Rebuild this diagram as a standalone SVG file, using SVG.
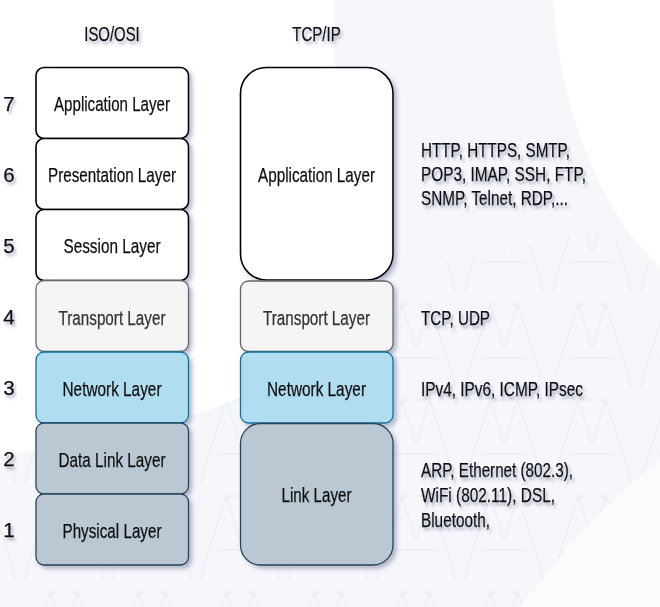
<svg xmlns="http://www.w3.org/2000/svg" width="660" height="607" viewBox="0 0 660 607">
<defs>
<filter id="sh" x="-10%" y="-10%" width="125%" height="125%">
<feDropShadow dx="3" dy="3" stdDeviation="2" flood-color="#4a5580" flood-opacity="0.4"/>
</filter>
<filter id="tsh" x="-10%" y="-30%" width="125%" height="170%">
<feDropShadow dx="2" dy="3" stdDeviation="1.8" flood-color="#4a5580" flood-opacity="0.45"/>
</filter>
<pattern id="tri" width="88" height="96" patternUnits="userSpaceOnUse" x="20" y="10">
<path d="M4,90 L30,6 L58,6 L84,90 M22,60 L66,60 M30,6 L44,50 L58,6" fill="none" stroke="#e9ecf0" stroke-width="1.5"/>
</pattern>
</defs>
<style>
.t{font-family:"Liberation Sans",Arial,sans-serif;font-size:20.5px;fill:#111;text-anchor:middle;stroke:#111;stroke-width:0.25}
.l{font-family:"Liberation Sans",Arial,sans-serif;font-size:20.5px;fill:#111;stroke:#111;stroke-width:0.25}
.n{font-family:"Liberation Sans",Arial,sans-serif;font-size:20.5px;fill:#111;text-anchor:middle;stroke:#111;stroke-width:0.25}
.w{fill:#ffffff;stroke:#000000;stroke-width:1.6}
.g{fill:#f5f5f5;stroke:#666666;stroke-width:1.3}
.b{fill:#b1ddf0;stroke:#10739e;stroke-width:1.3}
.s{fill:#bac8d3;stroke:#23445d;stroke-width:1.3}
</style>
<rect width="660" height="607" fill="#ffffff"/>
<path d="M334,0 L553,0 C560,110 600,210 660,268 L660,607 L0,607 L0,455 C140,440 280,400 334,330 Z" fill="#f6f7fa"/>
<path d="M400,270 L600,230 L660,268 L660,607 L0,607 L0,455 C140,440 280,400 334,330 Z" fill="url(#tri)" opacity="0.75"/>
<path d="M520,607 C570,540 620,490 660,460 L660,607 Z" fill="#fafbfc"/>

<g id="title-iso" filter="url(#tsh)"><text class="t" x="112" y="40.5" textLength="55.5" lengthAdjust="spacingAndGlyphs">ISO/OSI</text></g>
<g id="title-tcp" filter="url(#tsh)"><text class="t" x="316.5" y="40.5" textLength="48.5" lengthAdjust="spacingAndGlyphs">TCP/IP</text></g>

<g id="numbers" filter="url(#tsh)">
<text class="n" x="9" y="111">7</text>
<text class="n" x="9" y="182">6</text>
<text class="n" x="9" y="253">5</text>
<text class="n" x="9" y="324">4</text>
<text class="n" x="9" y="395">3</text>
<text class="n" x="9" y="466">2</text>
<text class="n" x="9" y="537">1</text>
</g>

<g id="iso-application" filter="url(#sh)"><rect class="w" x="36" y="67.5" width="152.5" height="71" rx="8"/><text class="t" x="112" y="111" textLength="116" lengthAdjust="spacingAndGlyphs">Application Layer</text></g>
<g id="iso-presentation" filter="url(#sh)"><rect class="w" x="36" y="138.5" width="152.5" height="71" rx="8"/><text class="t" x="112" y="182" textLength="128" lengthAdjust="spacingAndGlyphs">Presentation Layer</text></g>
<g id="iso-session" filter="url(#sh)"><rect class="w" x="36" y="209.5" width="152.5" height="71" rx="8"/><text class="t" x="112" y="253" textLength="97" lengthAdjust="spacingAndGlyphs">Session Layer</text></g>
<g id="iso-transport" filter="url(#sh)"><rect class="g" x="36" y="280.5" width="152.5" height="71" rx="8"/><text class="t" x="112" y="324.5" textLength="107" lengthAdjust="spacingAndGlyphs" style="fill:#333;stroke:#333">Transport Layer</text></g>
<g id="iso-network" filter="url(#sh)"><rect class="b" x="36" y="352" width="152.5" height="71" rx="8"/><text class="t" x="112" y="395.5" textLength="99" lengthAdjust="spacingAndGlyphs">Network Layer</text></g>
<g id="iso-datalink" filter="url(#sh)"><rect class="s" x="36" y="423" width="152.5" height="71" rx="8"/><text class="t" x="112" y="466.5" textLength="107" lengthAdjust="spacingAndGlyphs">Data Link Layer</text></g>
<g id="iso-physical" filter="url(#sh)"><rect class="s" x="36" y="494" width="152.5" height="71" rx="8"/><text class="t" x="112" y="537.5" textLength="99" lengthAdjust="spacingAndGlyphs">Physical Layer</text></g>

<g id="tcp-application" filter="url(#sh)"><rect class="w" x="240.5" y="67.5" width="152.5" height="212.5" rx="26"/><text class="t" x="316.5" y="182" textLength="117" lengthAdjust="spacingAndGlyphs">Application Layer</text></g>
<g id="tcp-transport" filter="url(#sh)"><rect class="g" x="240.5" y="281" width="152.5" height="70.5" rx="8"/><text class="t" x="316.5" y="324.5" textLength="107" lengthAdjust="spacingAndGlyphs" style="fill:#333;stroke:#333">Transport Layer</text></g>
<g id="tcp-network" filter="url(#sh)"><rect class="b" x="240.5" y="352" width="152.5" height="71" rx="8"/><text class="t" x="316.5" y="395.5" textLength="99" lengthAdjust="spacingAndGlyphs">Network Layer</text></g>
<g id="tcp-link" filter="url(#sh)"><rect class="s" x="240.5" y="423.5" width="152.5" height="141.5" rx="20"/><text class="t" x="316.5" y="502" textLength="70" lengthAdjust="spacingAndGlyphs">Link Layer</text></g>

<g id="proto-app" filter="url(#tsh)">
<text class="l" x="421" y="157" textLength="149" lengthAdjust="spacingAndGlyphs">HTTP, HTTPS, SMTP,</text>
<text class="l" x="421" y="181" textLength="165" lengthAdjust="spacingAndGlyphs">POP3, IMAP, SSH, FTP,</text>
<text class="l" x="421" y="205" textLength="147" lengthAdjust="spacingAndGlyphs">SNMP, Telnet, RDP,...</text>
</g>
<g id="proto-transport" filter="url(#tsh)"><text class="l" x="421" y="324.5" textLength="69" lengthAdjust="spacingAndGlyphs">TCP, UDP</text></g>
<g id="proto-network" filter="url(#tsh)"><text class="l" x="421" y="395.5" textLength="162" lengthAdjust="spacingAndGlyphs">IPv4, IPv6, ICMP, IPsec</text></g>
<g id="proto-link" filter="url(#tsh)">
<text class="l" x="421" y="477" textLength="152" lengthAdjust="spacingAndGlyphs">ARP, Ethernet (802.3),</text>
<text class="l" x="421" y="502" textLength="134" lengthAdjust="spacingAndGlyphs">WiFi (802.11), DSL,</text>
<text class="l" x="421" y="527" textLength="69" lengthAdjust="spacingAndGlyphs">Bluetooth,</text>
</g>
</svg>
